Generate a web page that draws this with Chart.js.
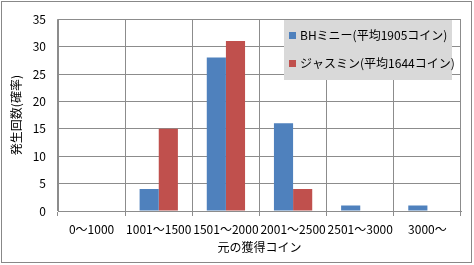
<!DOCTYPE html>
<html>
<head>
<meta charset="utf-8">
<script src="https://cdn.jsdelivr.net/npm/chart.js"></script>
<style>
  body { margin: 0; background: #fff; }
</style>
</head>
<body>
<canvas id="myChart" width="474" height="265"></canvas>
<script>
var categories = ['0～1000', '1001～1500', '1501～2000', '2001～2500', '2501～3000', '3000～'];
var bhMinnie = [0, 4, 28, 16, 1, 1];
var jasmine = [0, 15, 31, 4, 0, 0];
var seriesNames = ['BHミニー(平均1905コイン)', 'ジャスミン(平均1644コイン)'];
var yTicks = [0, 5, 10, 15, 20, 25, 30, 35];

var font = '"Noto Sans CJK JP", "Noto Sans", sans-serif';
Chart.defaults.font.family = font;
Chart.defaults.font.size = 12;
Chart.defaults.color = '#000';

// legend box inside the plot + outer frame
var boxLegend = {
  id: 'boxLegend',
  afterDraw: function(chart) {
    var c = chart.ctx;
    c.save();
    c.strokeStyle = '#888';
    c.lineWidth = 1;
    c.strokeRect(1.5, 1.5, 470, 261);
    c.fillStyle = '#d9d9d9';
    c.fillRect(284, 20, 168, 60);
    c.font = '12px ' + font;
    c.textBaseline = 'middle';
    chart.data.datasets.forEach(function(ds, i) {
      var y = 35 + i * 28;
      c.fillStyle = ds.backgroundColor;
      c.fillRect(289, y - 3, 7, 7);
      c.fillStyle = '#000';
      c.fillText(ds.label, 300, y);
    });
    c.restore();
  }
};

var ctx = document.getElementById('myChart').getContext('2d');
var myChart = new Chart(ctx, {
  type: 'bar',
  data: {
    labels: categories,
    datasets: [{
      label: seriesNames[0],
      data: bhMinnie,
      backgroundColor: '#4f81bd'
    }, {
      label: seriesNames[1],
      data: jasmine,
      backgroundColor: '#c0504d'
    }]
  },
  options: {
    responsive: false,
    animation: false,
    devicePixelRatio: 1,
    layout: { padding: { left: 0, top: 14, right: 13, bottom: 0 } },
    plugins: {
      legend: { display: false },
      tooltip: { enabled: false }
    },
    datasets: { bar: { categoryPercentage: 0.57, barPercentage: 1 } },
    scales: {
      x: {
        offset: true,
        grid: { offset: true, color: '#8c8c8c', tickLength: 5 },
        border: { color: '#8c8c8c' },
        ticks: { padding: 6, maxRotation: 0, autoSkip: false, font: { size: 12 } },
        title: { display: true, text: '元の獲得コイン', font: { size: 12 }, padding: { top: 2, bottom: 10 } },
        afterFit: function(s) { s.height = 54; }
      },
      y: {
        min: 0,
        max: 35,
        afterBuildTicks: function(s) { s.ticks = yTicks.map(function(v) { return { value: v }; }); },
        grid: { color: '#8c8c8c', drawTicks: false },
        border: { color: '#8c8c8c' },
        ticks: { padding: 12, font: { size: 12 } },
        title: { display: true, text: '発生回数(確率)', font: { size: 12 }, padding: { top: 9, bottom: 0 } },
        afterFit: function(s) { s.width = 58; }
      }
    }
  },
  plugins: [boxLegend]
});
</script>
</body>
</html>
